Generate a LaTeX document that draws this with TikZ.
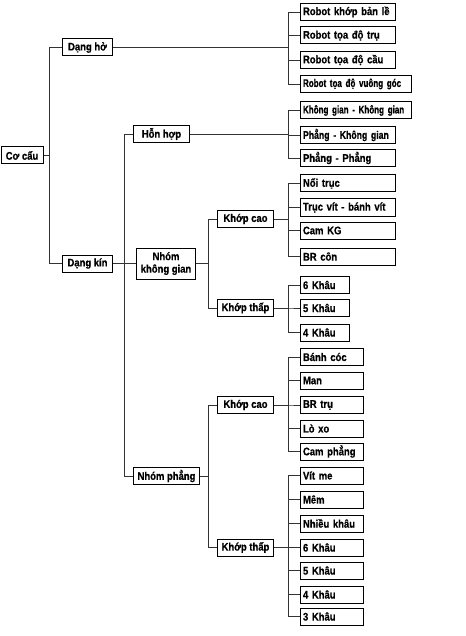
\documentclass[tikz,border=0pt]{standalone}
\usepackage{fontspec}
\setmainfont[FakeStretch=0.86, BoldFeatures={FakeBold=0.6}]{Liberation Sans}
\newfontfamily\midfont[FakeStretch=0.79, BoldFeatures={FakeBold=0.6}]{Liberation Sans}
\newfontfamily\narrowfont[FakeStretch=0.73, BoldFeatures={FakeBold=0.6}]{Liberation Sans}
\usetikzlibrary{positioning}
\tikzset{
  box/.style={draw=black, line width=1pt, fill=white, minimum height=17pt,
    inner xsep=2.5pt, inner ysep=0pt, anchor=west,
    font=\fontsize{11}{12.5}\selectfont\bfseries},
  leaf/.style={box, text width=#1, align=left},
  link/.style={draw=black!80, line width=0.9pt},
}

\begin{document}
\begin{tikzpicture}[x=1pt, y=-1pt]
    \useasboundingbox (0,0) rectangle (465,636);

    % Cơ cấu
    \node[box, minimum width=42pt] (coCau) at (0.5,155.5) {Cơ cấu};
    \node[box, minimum width=50pt] (dangHo) at (62,47.5) {Dạng hở};
    \node[box, minimum width=50pt] (dangKin) at (62,263.5) {Dạng kín};
    \coordinate (bCo) at (49,155.5);
    \draw[link] (coCau.east) -- (bCo) |- (dangHo.west);
    \draw[link] (coCau.east) -- (bCo) |- (dangKin.west);

    % Dạng hở
    \coordinate (bHo) at (288,47.5);
    \foreach \y/\w/\t [count=\i] in {12/90pt/Robot khớp bản lề, 35.5/90pt/Robot tọa độ trụ,
        60/90pt/Robot tọa độ cầu, 84/106pt/{\narrowfont Robot tọa độ vuông góc}} {
        \node[leaf=\w] (ho\i) at (300,\y) {\t};
        \draw[link] (dangHo.east) -- (bHo) |- (ho\i.west);
    }

    % Dạng kín
    \node[box, minimum width=56pt] (honHop) at (133,134) {Hỗn hợp};
    \node[box, minimum width=59pt, minimum height=31pt, align=center] (nhomKG) at (136,263.5) {Nhóm\\không gian};
    \node[box, minimum width=66pt] (nhomPhang) at (133,476) {Nhóm phẳng};
    \coordinate (bKin) at (124,263.5);
    \draw[link] (dangKin.east) -- (bKin) |- (honHop.west);
    \draw[link] (dangKin.east) -- (nhomKG.west);
    \draw[link] (dangKin.east) -- (bKin) |- (nhomPhang.west);

    % Hỗn hợp
    \coordinate (bHH) at (288,134);
    \foreach \y/\w/\t [count=\i] in {110.5/106pt/{\narrowfont Không gian - Không gian},
        135/90pt/{\midfont Phẳng - Không gian}, 158/90pt/Phẳng - Phẳng} {
        \node[leaf=\w] (hh\i) at (300,\y) {\t};
        \draw[link] (honHop.east) -- (bHH) |- (hh\i.west);
    }

    % Nhóm không gian
    \node[box, minimum width=56pt] (kcKG) at (217,219) {Khớp cao};
    \node[box, minimum width=56pt] (ktKG) at (217,308) {Khớp thấp};
    \coordinate (bKG) at (208,263.5);
    \draw[link] (nhomKG.east) -- (bKG) |- (kcKG.west);
    \draw[link] (nhomKG.east) -- (bKG) |- (ktKG.west);

    \coordinate (bKcKG) at (288,219);
    \foreach \y/\t [count=\i] in {183.5/Nối trục, 207.5/Trục vít - bánh vít,
        230.5/Cam KG, 256.5/BR côn} {
        \node[leaf=90pt] (kcg\i) at (300,\y) {\t};
        \draw[link] (kcKG.east) -- (bKcKG) |- (kcg\i.west);
    }
    \coordinate (bKtKG) at (288,308);
    \foreach \y/\t [count=\i] in {285/6 Khâu, 308/5 Khâu, 332.5/4 Khâu} {
        \node[leaf=44pt] (ktg\i) at (300,\y) {\t};
        \draw[link] (ktKG.east) -- (bKtKG) |- (ktg\i.west);
    }

    % Nhóm phẳng
    \node[box, minimum width=56pt] (kcP) at (217,405) {Khớp cao};
    \node[box, minimum width=56pt] (ktP) at (217,547.5) {Khớp thấp};
    \coordinate (bPh) at (208,476);
    \draw[link] (nhomPhang.east) -- (bPh) |- (kcP.west);
    \draw[link] (nhomPhang.east) -- (bPh) |- (ktP.west);

    \coordinate (bKcP) at (288,405);
    \foreach \y/\t [count=\i] in {357/Bánh cóc, 380.5/Man, 405/BR trụ,
        428.5/Lò xo, 451.5/Cam phẳng} {
        \node[leaf=58pt] (kcp\i) at (300,\y) {\t};
        \draw[link] (kcP.east) -- (bKcP) |- (kcp\i.west);
    }
    \coordinate (bKtP) at (288,547.5);
    \foreach \y/\t [count=\i] in {475.5/Vít me, 499.5/Mêm, 523.5/Nhiều khâu,
        547.5/6 Khâu, 570.5/5 Khâu, 594.5/4 Khâu, 616.5/3 Khâu} {
        \node[leaf=58pt] (ktp\i) at (300,\y) {\t};
        \draw[link] (ktP.east) -- (bKtP) |- (ktp\i.west);
    }
\end{tikzpicture}
\end{document}
